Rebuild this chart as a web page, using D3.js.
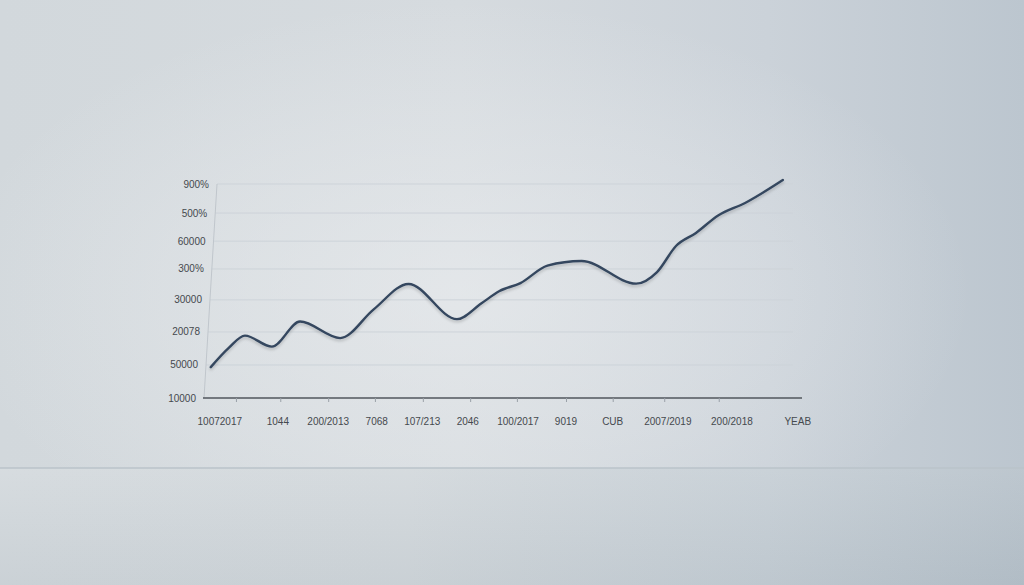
<!DOCTYPE html>
<html>
<head>
<meta charset="utf-8">
<script src="https://cdn.jsdelivr.net/npm/d3@7/dist/d3.min.js"></script>
<style>
html,body{margin:0;padding:0;background:#d6dbdf;}
svg{display:block;}
text{font-family:"Liberation Sans",Arial,sans-serif;}
</style>
</head>
<body>
<svg id="chart" width="1024" height="585"></svg>
<script>
// ---- data ----
const yTickLabels = ["10000","50000","20078","30000","300%","60000","500%","900%"];
const yTickValues = [0, 1.08, 2.16, 3.21, 4.22, 5.13, 6.05, 7];
const xTickLabels = ["10072017","1044","200/2013","7068","107/213","2046","100/2017","9019","CUB","2007/2019","200/2018","YEAB"];
const xLabelValues = [2.8, 12.5, 20.9, 29.0, 36.6, 44.2, 52.6, 60.6, 68.4, 77.6, 88.3, 99.3];
const xTickValues = [5.5, 12.9, 20.9, 28.7, 36.7, 44.6, 52.4, 60.6, 68.4, 77.0, 86.1];
const seriesX = [1.3, 4.3, 7.0, 11.5, 16.2, 22.9, 28.5, 34.3, 42.4, 46.5, 49.5, 53.0, 57.5, 63.2, 72.3, 75.8, 79.0, 82.3, 86.0, 90.5, 96.8];
const seriesY = [1.01, 1.64, 2.04, 1.68, 2.50, 1.96, 2.90, 3.73, 2.58, 3.10, 3.50, 3.76, 4.33, 4.48, 3.74, 4.12, 4.98, 5.40, 5.97, 6.38, 7.13];

// ---- setup ----
const W = 1024, H = 585;
const svg = d3.select("#chart");
const defs = svg.append("defs");

const side = defs.append("linearGradient").attr("id","side")
  .attr("x1","0").attr("y1","0").attr("x2","1").attr("y2","0");
side.append("stop").attr("offset","0%").attr("stop-color","#d2d8dc");
side.append("stop").attr("offset","45%").attr("stop-color","#d6dbdf");
side.append("stop").attr("offset","75%").attr("stop-color","#cbd2d9");
side.append("stop").attr("offset","100%").attr("stop-color","#bcc6cf");

const glow = defs.append("radialGradient").attr("id","glow")
  .attr("cx","0.45").attr("cy","0.5").attr("r","0.5");
glow.append("stop").attr("offset","0%").attr("stop-color","#eef0f2").attr("stop-opacity",0.55);
glow.append("stop").attr("offset","60%").attr("stop-color","#eef0f2").attr("stop-opacity",0.25);
glow.append("stop").attr("offset","100%").attr("stop-color","#eef0f2").attr("stop-opacity",0);

const floorH = defs.append("linearGradient").attr("id","floorH")
  .attr("x1","0").attr("y1","0").attr("x2","1").attr("y2","0");
floorH.append("stop").attr("offset","0%").attr("stop-color","#d1d7db");
floorH.append("stop").attr("offset","40%").attr("stop-color","#d0d6da");
floorH.append("stop").attr("offset","75%").attr("stop-color","#c3ccd3");
floorH.append("stop").attr("offset","100%").attr("stop-color","#b4bfc8");

const floorV = defs.append("linearGradient").attr("id","floorV")
  .attr("x1","0").attr("y1","0").attr("x2","0").attr("y2","1");
floorV.append("stop").attr("offset","0%").attr("stop-color","#ffffff").attr("stop-opacity",0.12);
floorV.append("stop").attr("offset","100%").attr("stop-color","#9aa6b0").attr("stop-opacity",0.12);

const shadow = defs.append("filter").attr("id","shadow")
  .attr("x","-10%").attr("y","-10%").attr("width","120%").attr("height","130%");
shadow.append("feGaussianBlur").attr("in","SourceAlpha").attr("stdDeviation",1.6).attr("result","b");
shadow.append("feOffset").attr("in","b").attr("dy",2).attr("result","o");
shadow.append("feComponentTransfer").attr("in","o").attr("result","s")
  .append("feFuncA").attr("type","linear").attr("slope",0.2);
const mg = shadow.append("feMerge");
mg.append("feMergeNode").attr("in","s");
mg.append("feMergeNode").attr("in","SourceGraphic");

svg.append("rect").attr("width",W).attr("height",H).attr("fill","url(#side)");
svg.append("rect").attr("width",W).attr("height",H).attr("fill","url(#glow)");
svg.append("rect").attr("x",0).attr("y",468).attr("width",W).attr("height",H-468).attr("fill","url(#floorH)");
svg.append("rect").attr("x",0).attr("y",468).attr("width",W).attr("height",H-468).attr("fill","url(#floorV)");
svg.append("line").attr("x1",0).attr("x2",W).attr("y1",468).attr("y2",468)
  .attr("stroke","#bac3ca").attr("stroke-width",1.6);

// ---- scales ----
const x = d3.scaleLinear().domain([0, 100]).range([203, 802]);
const y = d3.scaleLinear().domain([0, 7]).range([398, 184]);
// y axis leans slightly: its x position depends on height
const axisX = d3.scaleLinear().domain([0, 7]).range([204, 217]);

const g = svg.append("g");

// gridlines
g.selectAll(".grid").data(yTickValues.slice(1)).join("line")
  .attr("x1", d => axisX(d)).attr("x2", d => x(98.5))
  .attr("y1", d => y(d)).attr("y2", d => y(d))
  .attr("stroke","#cdd3d9").attr("stroke-width",1);

// y axis line
g.append("line")
  .attr("x1", axisX(0)).attr("y1", y(0))
  .attr("x2", axisX(7)).attr("y2", y(7))
  .attr("stroke","#c0c6cc").attr("stroke-width",1);

// y labels
g.selectAll(".ylab").data(yTickValues).join("text")
  .attr("x", d => axisX(d) - 8)
  .attr("y", d => y(d))
  .attr("dy","0.35em")
  .attr("text-anchor","end")
  .attr("font-size",10)
  .attr("fill","#45494e")
  .text((d,i) => yTickLabels[i]);

// x axis
const xAxis = d3.axisBottom(x).tickValues(xTickValues).tickSize(4).tickFormat("");
const xa = g.append("g").attr("transform",`translate(0,${y(0)})`).call(xAxis);
xa.select(".domain").attr("stroke","#50565c").attr("stroke-width",1.6)
  .attr("d", `M${x(0)},0H${x(100)}`);
xa.selectAll(".tick line").attr("stroke","#9aa1a8");

// x labels
g.selectAll(".xlab").data(xLabelValues).join("text")
  .attr("x", d => x(d))
  .attr("y", 425)
  .attr("text-anchor","middle")
  .attr("font-size",10)
  .attr("fill","#45494e")
  .text((d,i) => xTickLabels[i]);

// series line
const pts = seriesX.map((v,i) => [v, seriesY[i]]);
const line = d3.line().x(d => x(d[0])).y(d => y(d[1])).curve(d3.curveMonotoneX);
g.append("path").datum(pts)
  .attr("d", line)
  .attr("fill","none")
  .attr("stroke","#34475f")
  .attr("stroke-width",2.4)
  .attr("stroke-linecap","round")
  .attr("filter","url(#shadow)");
</script>
</body>
</html>
